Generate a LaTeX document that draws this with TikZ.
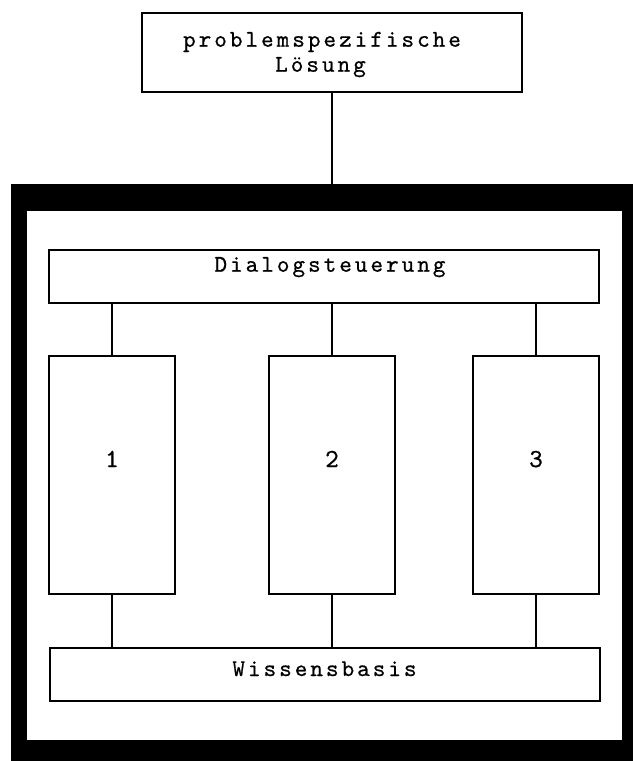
\documentclass[tikz,border=0pt]{standalone}
\usepackage{fontspec}
\newfontfamily\lblfont{lmmono10-regular}[Extension=.otf,LetterSpace=12.5,FakeBold=0.6]
\newfontfamily\digfont{lmmono10-regular}[Extension=.otf,FakeBold=0.6]
\tikzset{
  box/.style={draw=black, line width=1.8pt, rectangle, inner sep=0pt, fill=white},
  conn/.style={draw=black, line width=1.6pt},
  lbl/.style={inner sep=0pt, anchor=base, font=\lblfont\fontsize{24}{25}\selectfont},
  dig/.style={inner sep=0pt, anchor=base, font=\digfont\fontsize{26}{26}\selectfont}
}
\begin{document}
\begin{tikzpicture}[x=1pt, y=-1pt]
\useasboundingbox (0,0) rectangle (633,761);
% outer thick frame
\fill[black] (11,184) rectangle (633,761);
\fill[white] (27,211) rectangle (622,740);
\coordinate (ftop) at (332,185);
% top box
\node[box, minimum width=380pt, minimum height=79pt] (top) at (332,52.5) {};
\node[lbl] (topA) at (322,46.7) {problemspezifische};
\node[lbl] (topB) at (320.5,71.7) {Lösung};
% Dialogsteuerung
\node[box, minimum width=550pt, minimum height=53pt] (dlg) at (324,276.5) {};
\node[lbl] (dlgT) at (330,271.7) {Dialogsteuerung};
% three modules
\node[box, minimum width=126pt, minimum height=238pt] (b1) at (112,475) {};
\node[box, minimum width=126pt, minimum height=238pt] (b2) at (332,475) {};
\node[box, minimum width=126pt, minimum height=238pt] (b3) at (536,475) {};
\node[dig] (d1) at (112,467) {1};
\node[dig] (d2) at (332,467) {2};
\node[dig] (d3) at (536,467) {3};
% Wissensbasis
\node[box, minimum width=550pt, minimum height=53pt] (wis) at (325,674.5) {};
\node[lbl] (wisT) at (324.5,676) {Wissensbasis};
% connectors
\draw[conn] (ftop -| top.south) -- (top.south);
\draw[conn] (b1.north |- dlg.south) -- (b1.north);
\draw[conn] (b2.north |- dlg.south) -- (b2.north);
\draw[conn] (b3.north |- dlg.south) -- (b3.north);
\draw[conn] (b1.south) -- (b1.south |- wis.north);
\draw[conn] (b2.south) -- (b2.south |- wis.north);
\draw[conn] (b3.south) -- (b3.south |- wis.north);
\end{tikzpicture}
\end{document}
